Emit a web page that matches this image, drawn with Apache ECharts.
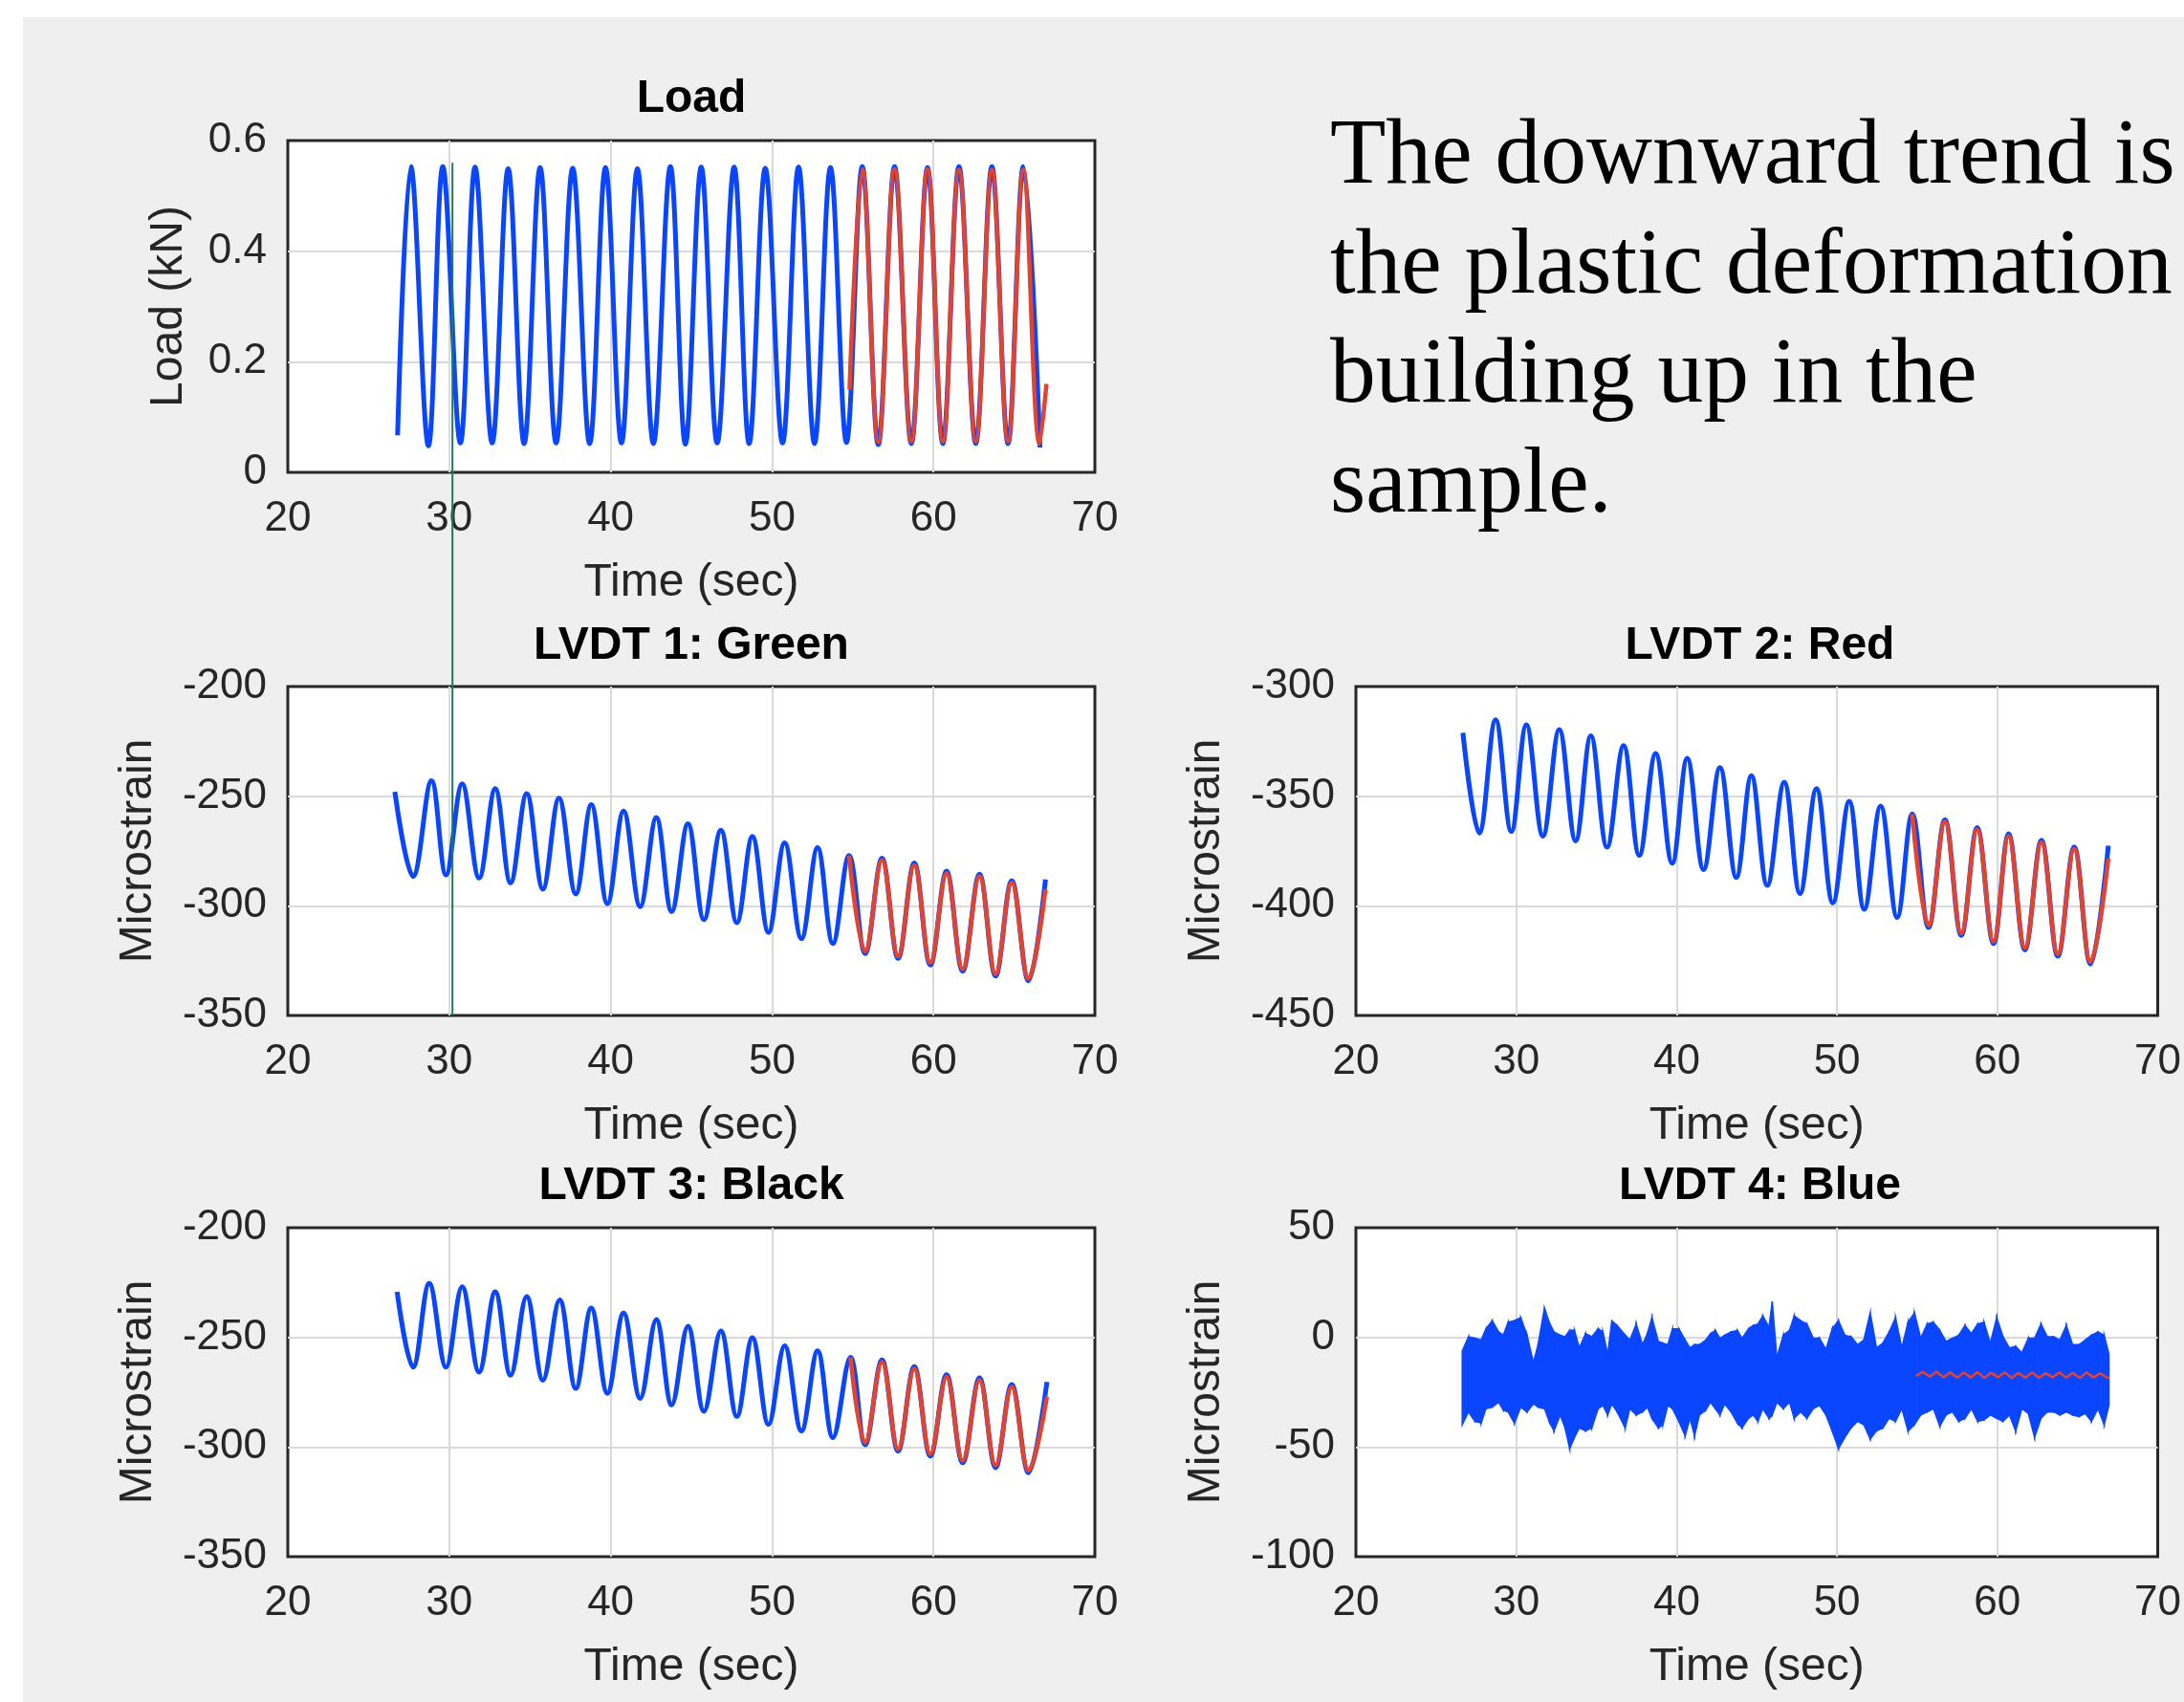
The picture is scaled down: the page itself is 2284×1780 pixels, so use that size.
<!DOCTYPE html>
<html lang="en">
<head>
<meta charset="UTF-8">
<title>Load and LVDT strain</title>
<script src="https://cdn.jsdelivr.net/npm/echarts@6/dist/echarts.min.js"></script>
<style>
  html, body { margin: 0; padding: 0; background: #fff; }
  #bg { position: absolute; left: 24px; top: 18px; width: 2260px; height: 1762px; background: #efefef; }
  #container { position: absolute; left: 0; top: 0; width: 2284px; height: 1780px; }
</style>
</head>
<body>
<div id="bg"></div>
<div id="container"></div>
<script>
// ---- data (peaks / troughs of each cycle) ----
var xTicks = [20, 30, 40, 50, 60, 70];

var loadBlueTime = [26.8, 27.62, 28.71, 29.6, 30.69, 31.6, 32.66, 33.65, 34.64, 35.63, 36.62, 37.65, 38.7, 39.68, 40.67, 41.66, 42.65, 43.7, 44.63, 45.61, 46.6, 47.65, 48.58, 49.58, 50.65, 51.64, 52.63, 53.62, 54.61, 55.59, 56.58, 57.59, 58.63, 59.63, 60.58, 61.58, 62.62, 63.62, 64.62, 65.57, 66.6];
var loadBlue = [0.067, 0.553, 0.048, 0.553, 0.053, 0.552, 0.053, 0.549, 0.052, 0.551, 0.053, 0.550, 0.052, 0.551, 0.053, 0.549, 0.052, 0.553, 0.051, 0.552, 0.053, 0.552, 0.052, 0.550, 0.053, 0.552, 0.052, 0.551, 0.054, 0.553, 0.050, 0.553, 0.052, 0.551, 0.052, 0.553, 0.052, 0.553, 0.052, 0.553, 0.045];
var loadRedTime = [54.8, 55.59, 56.58, 57.59, 58.63, 59.63, 60.58, 61.58, 62.62, 63.62, 64.62, 65.57, 66.57, 67.0];
var loadRed = [0.15, 0.548, 0.055, 0.548, 0.056, 0.548, 0.056, 0.547, 0.056, 0.547, 0.056, 0.547, 0.052, 0.16];

var lvdt1BlueTime = [26.63, 27.76, 28.9, 29.8, 30.8, 31.85, 32.85, 33.8, 34.8, 35.8, 36.8, 37.84, 38.8, 39.8, 40.8, 41.83, 42.83, 43.78, 44.79, 45.78, 46.83, 47.82, 48.78, 49.78, 50.78, 51.82, 52.82, 53.77, 54.77, 55.77, 56.81, 57.81, 58.81, 59.81, 60.81, 61.81, 62.85, 63.85, 64.85, 65.89, 66.94];
var lvdt1Blue = [-248.0, -286.6, -242.9, -285.9, -244.4, -287.3, -246.6, -289.5, -248.8, -292.4, -250.9, -294.6, -253.9, -299.0, -256.8, -300.4, -259.7, -302.6, -262.6, -306.3, -265.5, -307.7, -268.4, -312.1, -271.3, -315.0, -273.5, -317.2, -277.1, -321.8, -278.3, -324.0, -280.5, -327.0, -284.2, -329.8, -285.6, -332.0, -288.5, -334.2, -288.0];
var lvdt1RedTime = [54.77, 55.77, 56.81, 57.81, 58.81, 59.81, 60.81, 61.81, 62.85, 63.85, 64.85, 65.89, 66.94];
var lvdt1Red = [-277.1, -320.8, -279.3, -323.0, -281.5, -325.9, -285.2, -328.8, -286.6, -331.0, -289.5, -333.2, -292.4];

var lvdt2BlueTime = [26.67, 27.69, 28.71, 29.69, 30.63, 31.66, 32.68, 33.7, 34.65, 35.66, 36.69, 37.67, 38.69, 39.72, 40.66, 41.68, 42.7, 43.72, 44.66, 45.65, 46.71, 47.69, 48.72, 49.74, 50.76, 51.7, 52.72, 53.75, 54.69, 55.71, 56.73, 57.75, 58.74, 59.76, 60.7, 61.72, 62.75, 63.77, 64.79, 65.81, 66.92];
var lvdt2Blue = [-321.1, -366.8, -315.2, -366.1, -317.4, -368.2, -319.6, -370.4, -322.5, -373.3, -326.9, -377.0, -330.5, -380.6, -332.7, -383.5, -337.0, -387.1, -340.7, -390.7, -343.6, -394.4, -346.5, -398.7, -352.3, -401.6, -354.5, -405.3, -358.1, -409.9, -360.7, -413.5, -364.3, -417.2, -367.2, -420.1, -370.1, -423.0, -373.1, -426.6, -372.6];
var lvdt2RedTime = [54.69, 55.71, 56.73, 57.75, 58.74, 59.76, 60.7, 61.72, 62.75, 63.77, 64.79, 65.81, 66.92];
var lvdt2Red = [-358.1, -408.9, -361.7, -412.5, -365.3, -416.2, -368.2, -419.1, -371.1, -422.0, -374.1, -425.6, -378.4];

var lvdt3BlueTime = [26.77, 27.76, 28.76, 29.8, 30.8, 31.85, 32.85, 33.8, 34.8, 35.8, 36.84, 37.84, 38.8, 39.8, 40.8, 41.83, 42.83, 43.78, 44.79, 45.78, 46.83, 47.82, 48.78, 49.78, 50.78, 51.82, 52.82, 53.77, 54.86, 55.77, 56.81, 57.81, 58.81, 59.81, 60.81, 61.81, 62.85, 63.85, 64.85, 65.89, 67.03];
var lvdt3Blue = [-229.2, -263.6, -225.4, -263.6, -226.9, -265.8, -229.2, -267.3, -231.4, -269.5, -232.9, -273.3, -236.6, -275.5, -238.9, -277.8, -241.9, -280.8, -244.9, -283.7, -247.1, -286.0, -250.1, -289.7, -253.8, -292.7, -256.1, -295.7, -259.1, -299.0, -260.3, -301.9, -263.3, -304.2, -267.0, -307.2, -268.5, -309.4, -271.5, -311.7, -270.3];
var lvdt3RedTime = [54.86, 55.77, 56.81, 57.81, 58.81, 59.81, 60.81, 61.81, 62.85, 63.85, 64.85, 65.89, 67.03];
var lvdt3Red = [-259.1, -298.0, -261.3, -300.9, -264.3, -303.2, -268.0, -306.2, -269.5, -308.4, -272.5, -310.7, -277.0];

// LVDT 4 is noise: upper and lower edge of the band
var lvdt4Time = [26.63, 27.02, 27.42, 27.81, 28.11, 28.50, 28.90, 29.19, 29.49, 29.88, 30.28, 30.67, 31.07, 31.36, 31.76, 32.05, 32.35, 32.74, 33.04, 33.33, 33.63, 33.93, 34.32, 34.71, 35.11, 35.40, 35.70, 35.96, 36.29, 36.79, 37.08, 37.48, 37.87, 38.17, 38.46, 38.86, 39.15, 39.45, 39.74, 40.14, 40.53, 40.83, 41.12, 41.42, 41.81, 42.11, 42.41, 42.70, 43.00, 43.39, 43.79, 44.08, 44.48, 44.77, 45.07, 45.37, 45.76, 45.96, 46.25, 46.65, 47.04,
  47.33, 47.73, 48.12, 48.52, 48.91, 49.31, 49.70, 50.09, 50.49, 50.88, 51.28, 51.67, 52.07, 52.46, 52.86, 53.25, 53.65, 54.04, 54.43, 54.83, 55.22, 55.62, 56.01, 56.41, 56.80, 57.20, 57.59, 57.98, 58.38, 58.77, 59.17, 59.56, 59.96, 60.35, 60.75, 61.14, 61.53, 61.93, 62.32, 62.72, 63.11, 63.51, 63.90, 64.30, 64.69, 65.09, 65.48, 65.87, 66.27, 66.66, 66.96];
var lvdt4High = [-6.3, 0.3, -0.4, -1.2, 3.9, 7.6, 2.5, 1.0, 6.9, 7.6, 9.0, 1.0, -11.4, -3.3, 13.4, 6.9, 2.5, 1.0, 0.3, 3.2, 3.2, -4.8, 1.7, 0.3, 3.9, 2.5, -7.7, 7.6, 5.4, 1.0, -1.2, 6.1, -3.3, 1.7, 9.0, -1.9, -2.6, -3.3, 3.9, 3.9, -1.2, -4.8, -3.3, -3.3, -1.2, 1.7, 3.2, -0.4, 1.0, 2.5, 3.2, -0.4, 3.9, 5.4, 6.1, 9.8, 4.7, 16.3, -9.2, 1.0, 3.2,
  9.8, 7.6, 6.1, -0.4, -0.4, -5.5, 3.9, 7.6, 1.0, 0.3, -3.3, -1.2, 11.2, -4.8, -2.6, 2.5, 9.0, -4.8, 6.9, 11.2, -0.4, 6.1, 6.9, 3.2, -1.9, -0.4, 1.0, 5.4, 1.7, 6.1, 6.9, -2.6, 9.0, 0.3, -4.8, -4.1, -7.0, -0.4, -0.4, 6.1, 0.3, 0.3, -1.2, 5.4, -3.3, -3.3, -1.2, 1.0, 2.5, 1.0, -7.7];
var lvdt4Low = [-39.8, -34.0, -38.3, -39.1, -32.5, -31.8, -29.6, -33.2, -34.0, -39.1, -31.8, -34.0, -30.3, -31.8, -32.5, -38.3, -42.7, -35.4, -41.3, -50.7, -45.6, -41.3, -42.7, -41.3, -32.5, -31.0, -35.4, -30.3, -34.0, -41.3, -32.5, -35.4, -34.0, -31.8, -36.9, -41.3, -39.8, -31.0, -32.5, -38.3, -44.9, -36.9, -44.9, -35.4, -33.2, -29.6, -32.5, -35.4, -30.3, -34.0, -39.1, -41.3, -36.9, -35.4, -38.3, -32.5, -36.9, -35.4, -29.6, -32.5, -29.6,
  -36.9, -34.0, -36.9, -32.5, -31.0, -35.4, -42.7, -50.7, -45.6, -41.3, -38.3, -39.8, -46.4, -42.7, -41.3, -36.9, -38.3, -32.5, -42.7, -39.8, -35.4, -34.0, -32.5, -40.5, -35.4, -34.0, -38.3, -36.9, -32.5, -38.3, -37.6, -35.4, -36.9, -38.3, -35.4, -42.7, -32.5, -34.7, -45.6, -36.9, -34.0, -34.0, -35.4, -34.0, -35.4, -36.1, -34.7, -38.3, -32.5, -39.8, -31.0];
var lvdt4RedTime = [54.93, 55.35, 55.8, 56.2, 56.65, 57.05, 57.5, 57.9, 58.35, 58.75, 59.2, 59.6, 60.05, 60.45, 60.9, 61.3, 61.75, 62.15, 62.6, 63.0, 63.45, 63.85, 64.3, 64.7, 65.15, 65.55, 66.0, 66.4, 66.96];
var lvdt4Red = [-17.5, -15.8, -17.9, -15.6, -18.2, -15.9, -18.4, -16.0, -18.3, -15.8, -18.5, -16.1, -18.2, -15.9, -18.6, -16.2, -18.4, -16.0, -18.5, -16.3, -18.2, -16.0, -18.4, -16.2, -18.6, -16.0, -18.3, -16.4, -18.8];

var panelTitles = ['Load', 'LVDT 1: Green', 'LVDT 2: Red', 'LVDT 3: Black', 'LVDT 4: Blue'];
var yNames = ['Load (kN)', 'Microstrain', 'Microstrain', 'Microstrain', 'Microstrain'];
var yMin = [0, -350, -450, -350, -100];
var yMax = [0.6, -200, -300, -200, 50];
var yStep = [0.2, 50, 50, 50, 50];

// green cursor line (x position, top in Load units, bottom in LVDT 1 units)
var markerTime = 30.2;
var markerTop = 0.56;
var markerBottom = -350;

var caption = 'The downward trend is\nthe plastic deformation\nbuilding up in the\nsample.';

// ---- chart ----
var FONT = '"Liberation Sans", Arial, Helvetica, sans-serif';
var BLUE = '#0a46ff';
var RED = '#e4432f';
var AXIS = '#262626';

var grids = [
    { left: 301, top: 147, width: 844, height: 347 },
    { left: 301, top: 718, width: 844, height: 344 },
    { left: 1418, top: 718, width: 845, height: 344 },
    { left: 301, top: 1284, width: 844, height: 344 },
    { left: 1418, top: 1284, width: 845, height: 344 }
];
var titleY = [104, 676, 676, 1241, 1241];

function pairs(t, v) {
    return t.map(function (x, i) { return [x, v[i]]; });
}

// peaks and troughs joined by the library's smoothing (≈ sine shape)
function curve(idx, t, v, color, width) {
    return {
        type: 'line', xAxisIndex: idx, yAxisIndex: idx,
        data: pairs(t, v), smooth: 0.37, symbol: 'none', silent: true,
        lineStyle: { color: color, width: width }
    };
}

var gridLine = { show: true, showMinLine: false, showMaxLine: false, lineStyle: { color: '#d9d9d9', width: 2 } };

var option = {
    animation: false,
    textStyle: { fontFamily: FONT },
    title: [],
    grid: [],
    xAxis: [],
    yAxis: [],
    series: []
};

grids.forEach(function (g, i) {
    option.grid.push({
        left: g.left, top: g.top, width: g.width, height: g.height,
        show: true, backgroundColor: '#fff', borderColor: AXIS, borderWidth: 3
    });
    option.title.push({
        text: panelTitles[i], left: g.left + g.width / 2, top: titleY[i],
        textAlign: 'center', textVerticalAlign: 'middle', padding: 0,
        textStyle: { fontFamily: FONT, fontSize: 48, fontWeight: 'bold', color: '#000' }
    });
    option.xAxis.push({
        type: 'value', gridIndex: i, min: xTicks[0], max: xTicks[xTicks.length - 1], interval: 10,
        name: 'Time (sec)', nameLocation: 'middle', nameGap: 92,
        nameTextStyle: { fontFamily: FONT, fontSize: 48, color: AXIS },
        axisLine: { show: false }, axisTick: { show: false },
        axisLabel: { fontFamily: FONT, fontSize: 44, color: AXIS, margin: 27 },
        splitLine: gridLine
    });
    option.yAxis.push({
        type: 'value', gridIndex: i, min: yMin[i], max: yMax[i], interval: yStep[i],
        name: yNames[i], nameLocation: 'middle', nameGap: i === 0 ? 100 : 132,
        nameTextStyle: { fontFamily: FONT, fontSize: 48, color: AXIS },
        axisLine: { show: false }, axisTick: { show: false },
        axisLabel: { fontFamily: FONT, fontSize: 44, color: AXIS, margin: 22 },
        splitLine: gridLine
    });
});

option.series.push(curve(0, loadBlueTime, loadBlue, BLUE, 5));
option.series.push(curve(0, loadRedTime, loadRed, RED, 4.5));
option.series.push(curve(1, lvdt1BlueTime, lvdt1Blue, BLUE, 5));
option.series.push(curve(1, lvdt1RedTime, lvdt1Red, RED, 4.5));
option.series.push(curve(2, lvdt2BlueTime, lvdt2Blue, BLUE, 5));
option.series.push(curve(2, lvdt2RedTime, lvdt2Red, RED, 4.5));
option.series.push(curve(3, lvdt3BlueTime, lvdt3Blue, BLUE, 5));
option.series.push(curve(3, lvdt3RedTime, lvdt3Red, RED, 4.5));

// noise band: one quad per step between the upper and lower edges
var bandItems = [];
for (var i = 0; i < lvdt4Time.length - 1; i++) {
    bandItems.push([lvdt4Time[i], lvdt4High[i], lvdt4Low[i], lvdt4Time[i + 1], lvdt4High[i + 1], lvdt4Low[i + 1]]);
}
option.series.push({
    type: 'custom', xAxisIndex: 4, yAxisIndex: 4, silent: true,
    data: bandItems,
    encode: { x: [0, 3], y: [1, 2, 4, 5] },
    renderItem: function (params, api) {
        var a = api.coord([api.value(0), api.value(1)]);
        var b = api.coord([api.value(3), api.value(4)]);
        var c = api.coord([api.value(3), api.value(5)]);
        var d = api.coord([api.value(0), api.value(2)]);
        return {
            type: 'polygon',
            shape: { points: [a, b, c, d] },
            style: { fill: BLUE, stroke: BLUE, lineWidth: 1.5 }
        };
    }
});
option.series.push({
    type: 'line', xAxisIndex: 4, yAxisIndex: 4,
    data: pairs(lvdt4RedTime, lvdt4Red), symbol: 'none', silent: true,
    lineStyle: { color: RED, width: 2.5 }
});

var myChart = echarts.init(document.getElementById('container'));
myChart.setOption(option);

// cursor line drawn through the axes' own scales
var pTop = myChart.convertToPixel({ xAxisIndex: 0, yAxisIndex: 0 }, [markerTime, markerTop]);
var pBottom = myChart.convertToPixel({ xAxisIndex: 1, yAxisIndex: 1 }, [markerTime, markerBottom]);

myChart.setOption({
    graphic: [
        {
            type: 'text', left: 1391, top: 108, z: 10, scaleX: 0.975,
            style: {
                text: caption, fill: '#000',
                fontFamily: '"Liberation Serif", "Times New Roman", serif',
                fontSize: 98, lineHeight: 114.7
            }
        },
        {
            type: 'line', z: 10,
            shape: { x1: pTop[0], y1: pTop[1], x2: pBottom[0], y2: pBottom[1] },
            style: { stroke: '#1f7a5c', lineWidth: 2 }
        }
    ]
});
</script>
</body>
</html>
